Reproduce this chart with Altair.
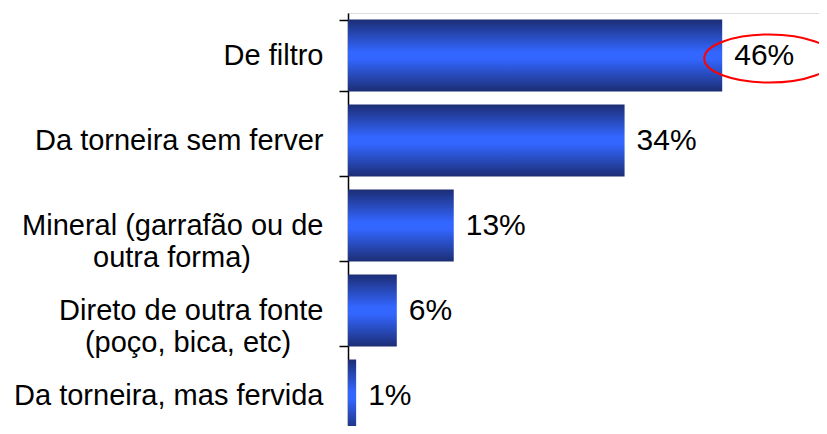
import altair as alt
import pandas as pd

NB = "\u00a0"
WJ = "\u2060"
categories = [
    "De filtro",
    "Da torneira sem ferver",
    "Mineral (garrafão ou de\noutra forma)" + NB * 9 + WJ,
    "Direto de outra fonte\n(poço, bica, etc)" + NB * 4 + WJ,
    "Da torneira, mas fervida",
]
values = [46, 34, 13, 6, 1]
labels = ["46%", "34%", "13%", "6%", "1%"]

highlight_category = ["De filtro"]
highlight_value = [46]

df = pd.DataFrame({"cat": categories, "val": values, "lab": labels})
hl = pd.DataFrame({"cat": highlight_category, "val": highlight_value})

gradient = alt.LinearGradient(
    gradient="linear", x1=0, y1=0, x2=0, y2=1,
    stops=[
        alt.GradientStop(color="#1c2d74", offset=0),
        alt.GradientStop(color="#3366ff", offset=0.45),
        alt.GradientStop(color="#3366ff", offset=0.55),
        alt.GradientStop(color="#1c2d74", offset=1),
    ],
)

FONT = "Liberation Sans"
pi = 0.153
yscale = alt.Scale(domain=categories, range=[0, 425], paddingInner=pi, paddingOuter=pi / 2)
xscale = alt.Scale(domain=[0, 57.9], nice=False, zero=True)

y_enc = alt.Y(
    "cat:N", scale=yscale, sort=categories, title=None,
    axis=alt.Axis(
        labelExpr="split(datum.label, '\\n')",
        labelFont=FONT, labelFontSize=29, labelColor="black",
        labelLineHeight=32, labelPadding=16, labelLimit=400,
        tickBand="extent", tickSize=9, tickColor="black",
        domainColor="black", domainWidth=1.5, tickWidth=1.5,
        labelAlign="right", labelBaseline="middle",
    ),
)

bars = alt.Chart(df).mark_bar(color=gradient, cornerRadius=0).encode(
    x=alt.X("val:Q", scale=xscale, axis=None),
    y=y_enc,
)

text = alt.Chart(df).mark_text(
    align="left", baseline="middle", dx=12, font=FONT, fontSize=30, color="black"
).encode(
    x=alt.X("val:Q", scale=xscale, axis=None),
    y=alt.Y("cat:N", scale=yscale, sort=categories, title=None),
    text="lab:N",
)

ellipse = alt.Chart(hl).mark_point(
    shape="M -1 0 A 1 0.37 0 1 0 1 0 A 1 0.37 0 1 0 -1 0 Z",
    filled=False, stroke="#ff0000", strokeWidth=2, size=16900, opacity=1,
    xOffset=47, yOffset=3,
).encode(
    x=alt.X("val:Q", scale=xscale, axis=None),
    y=alt.Y("cat:N", scale=yscale, sort=categories, title=None),
)

chart = (bars + text + ellipse).properties(
    width=471, height=413,
    autosize=alt.AutoSizeParams(type="none"),
    padding={"left": 340, "top": 5, "right": 0, "bottom": 0},
).configure_view(stroke=None).configure(background="white")

chart.save("out.html", embed_options={"renderer": "svg", "actions": False})
